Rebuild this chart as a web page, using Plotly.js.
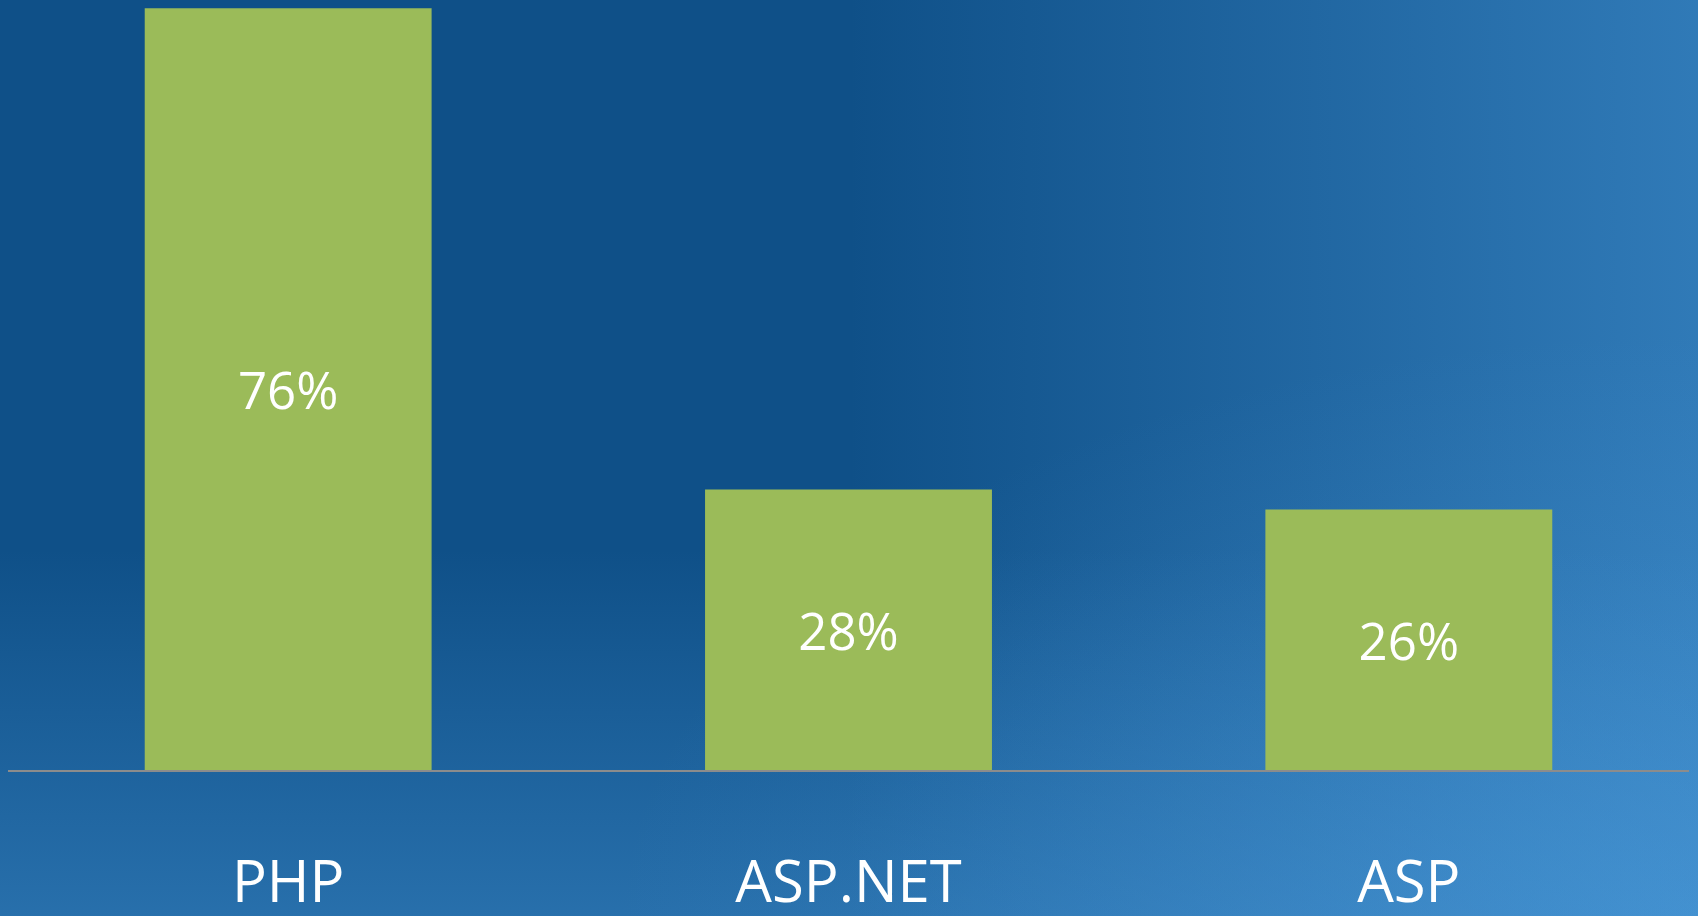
<!DOCTYPE html>
<html>
<head>
<meta charset="utf-8">
<script src="https://cdn.plot.ly/plotly-3.0.1.min.js"></script>
<style>
  html, body { margin: 0; padding: 0; width: 1698px; height: 916px; overflow: hidden; }
  body {
    background-color: #0f5088;
    background-image:
      radial-gradient(ellipse at 100% 100%, rgba(85,165,228,0.35) 0%, rgba(85,165,228,0) 45%),
      linear-gradient(to bottom, rgba(70,150,215,0) 60%, rgba(70,150,215,0.45) 100%),
      linear-gradient(to right, rgba(70,150,215,0) 50%, rgba(70,150,215,0.6) 100%);
  }
  #chart { width: 1698px; height: 916px; }
</style>
</head>
<body>
<div id="chart"></div>
<script>
const categories = ["PHP", "ASP.NET", "ASP"];
const values = [76, 28, 26];
const valueLabels = ["76%", "28%", "26%"];

const trace = {
  type: "bar",
  x: categories,
  y: values,
  text: valueLabels,
  textposition: "inside",
  insidetextanchor: "middle",
  textangle: 0,
  textfont: { family: "Open Sans, sans-serif", size: 51, color: "#ffffff" },
  marker: { color: "#9bbb59", line: { width: 0 } },
  hoverinfo: "skip"
};

const layout = {
  width: 1698,
  height: 916,
  margin: { l: 8, r: 9, t: 0, b: 146 },
  paper_bgcolor: "rgba(0,0,0,0)",
  plot_bgcolor: "rgba(0,0,0,0)",
  bargap: 0.488,
  showlegend: false,
  xaxis: {
    type: "category",
    showline: true,
    linecolor: "#8c8c8c",
    linewidth: 2,
    showgrid: false,
    zeroline: false,
    ticks: "",
    ticklabelstandoff: 60,
    tickfont: { family: "Open Sans, sans-serif", size: 58, color: "#ffffff" }
  },
  yaxis: {
    range: [0, 76.83],
    visible: false,
    showgrid: false,
    zeroline: false
  },
  uniformtext: { mode: false }
};

Plotly.newPlot("chart", [trace], layout, { displayModeBar: false, staticPlot: true });
</script>
</body>
</html>
